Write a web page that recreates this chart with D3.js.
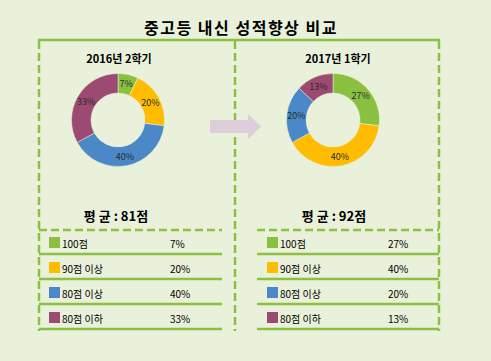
<!DOCTYPE html>
<html>
<head>
<meta charset="utf-8">
<script src="https://cdn.jsdelivr.net/npm/d3@7"></script>
<style>
  body { margin: 0; background: #e9f1da; }
  svg { display: block; font-family: "Noto Sans CJK KR", "Noto Sans", sans-serif; }
</style>
</head>
<body>
<div id="chart"></div>
<script>
//Datos
const title = '중고등 내신 성적향상 비교';
const semesters = ['2016년 2학기', '2017년 1학기'];
const categories = ['100점', '90점 이상', '80점 이상', '80점 이하'];
const values2016 = [7, 20, 40, 33];
const values2017 = [27, 40, 20, 13];
const averages = [81, 92];

//Colores fijos
const COLOR_LINE = '#8bc043',
COLOR_ARROW = '#dccfdb';

let width = 491, height = 361;

let svg = d3.select('#chart')
    .append('svg')
    .attr('width', width)
    .attr('height', height);

svg.append('rect')
    .attr('width', width)
    .attr('height', height)
    .attr('fill', '#e9f1da');

let color = d3.scaleOrdinal()
    .domain(categories)
    .range(['#8ac040', '#ffbc00', '#4a88c8', '#9d4a73']);

//Título
svg.append('text')
    .attr('x', 241)
    .attr('y', 34)
    .attr('text-anchor', 'middle')
    .style('font-size', '16px')
    .style('font-weight', '700')
    .style('letter-spacing', '1.5px')
    .text(title);

//Marco exterior
let frame = svg.append('g')
    .attr('stroke', COLOR_LINE)
    .attr('stroke-width', 2.5)
    .attr('fill', 'none');

frame.append('line').attr('x1', 38).attr('x2', 440).attr('y1', 40).attr('y2', 40);
[39, 235, 439].forEach(function(x) {
    frame.append('line')
        .attr('x1', x).attr('x2', x)
        .attr('y1', 41).attr('y2', 331)
        .attr('stroke-dasharray', '8,4');
});

//Flecha
svg.append('path')
    .attr('d', 'M210,120 L248,120 L248,114 L261,126.5 L248,139 L248,133 L210,133 Z')
    .attr('fill', COLOR_ARROW);

let panels = [
    { cx: 118, cy: 120, titleX: 119, avgX: 116, table: [39, 222], values: values2016 },
    { cx: 333, cy: 120, titleX: 338, avgX: 334, table: [257, 439], values: values2017 }
];

let pie = d3.pie().sort(null).value(function(d) { return d.value; });
let arc = d3.arc().innerRadius(27).outerRadius(46.5);
let labelArc = d3.arc().innerRadius(37).outerRadius(37);

let rows = d3.scaleBand()
    .domain(categories)
    .range([230, 330]);

panels.forEach(function(p, i) {
    let data = categories.map(function(c, j) { return { key: c, value: p.values[j] }; });

    //Subtítulo
    svg.append('text')
        .attr('x', p.titleX)
        .attr('y', 63)
        .attr('text-anchor', 'middle')
        .style('font-size', '11px')
        .style('font-weight', '700')
        .text(semesters[i]);

    //Donut
    let g = svg.append('g')
        .attr('transform', 'translate(' + p.cx + ',' + p.cy + ')');

    g.selectAll('path')
        .data(pie(data))
        .enter()
        .append('path')
        .attr('d', arc)
        .attr('fill', function(d) { return color(d.data.key); })
        .attr('stroke', '#e9f1da')
        .attr('stroke-width', 0.5);

    g.selectAll('text')
        .data(pie(data))
        .enter()
        .append('text')
        .attr('transform', function(d) { return 'translate(' + labelArc.centroid(d) + ')'; })
        .attr('text-anchor', 'middle')
        .attr('dominant-baseline', 'central')
        .style('font-size', '9px')
        .attr('fill', '#2a2a2a')
        .text(function(d) { return d.data.value + '%'; });

    //Promedio
    svg.append('text')
        .attr('x', p.avgX)
        .attr('y', 221)
        .attr('text-anchor', 'middle')
        .style('font-size', '13px')
        .style('font-weight', '700')
        .text('평 균 : ' + averages[i] + '점');

    //Tabla
    let t = svg.append('g');
    t.append('line')
        .attr('x1', p.table[0]).attr('x2', p.table[1])
        .attr('y1', rows(categories[0])).attr('y2', rows(categories[0]))
        .attr('stroke', COLOR_LINE)
        .attr('stroke-width', 2.5)
        .attr('stroke-dasharray', '8,4');

    let row = t.selectAll('.row')
        .data(data)
        .enter()
        .append('g')
        .attr('class', 'row')
        .attr('transform', function(d) { return 'translate(0,' + rows(d.key) + ')'; });

    row.append('line')
        .attr('x1', p.table[0]).attr('x2', p.table[1])
        .attr('y1', rows.bandwidth() - 1).attr('y2', rows.bandwidth() - 1)
        .attr('stroke', COLOR_LINE)
        .attr('stroke-width', 2.5);

    row.append('rect')
        .attr('x', p.table[0] + 10)
        .attr('y', 7)
        .attr('width', 11)
        .attr('height', 11)
        .attr('fill', function(d) { return color(d.key); });

    row.append('text')
        .attr('x', p.table[0] + 23)
        .attr('y', 13)
        .attr('dominant-baseline', 'central')
        .style('font-size', '10px')
        .text(function(d) { return d.key; });

    row.append('text')
        .attr('x', p.table[0] + 131)
        .attr('y', 13)
        .attr('dominant-baseline', 'central')
        .style('font-size', '10px')
        .text(function(d) { return d.value + '%'; });
});
</script>
</body>
</html>
